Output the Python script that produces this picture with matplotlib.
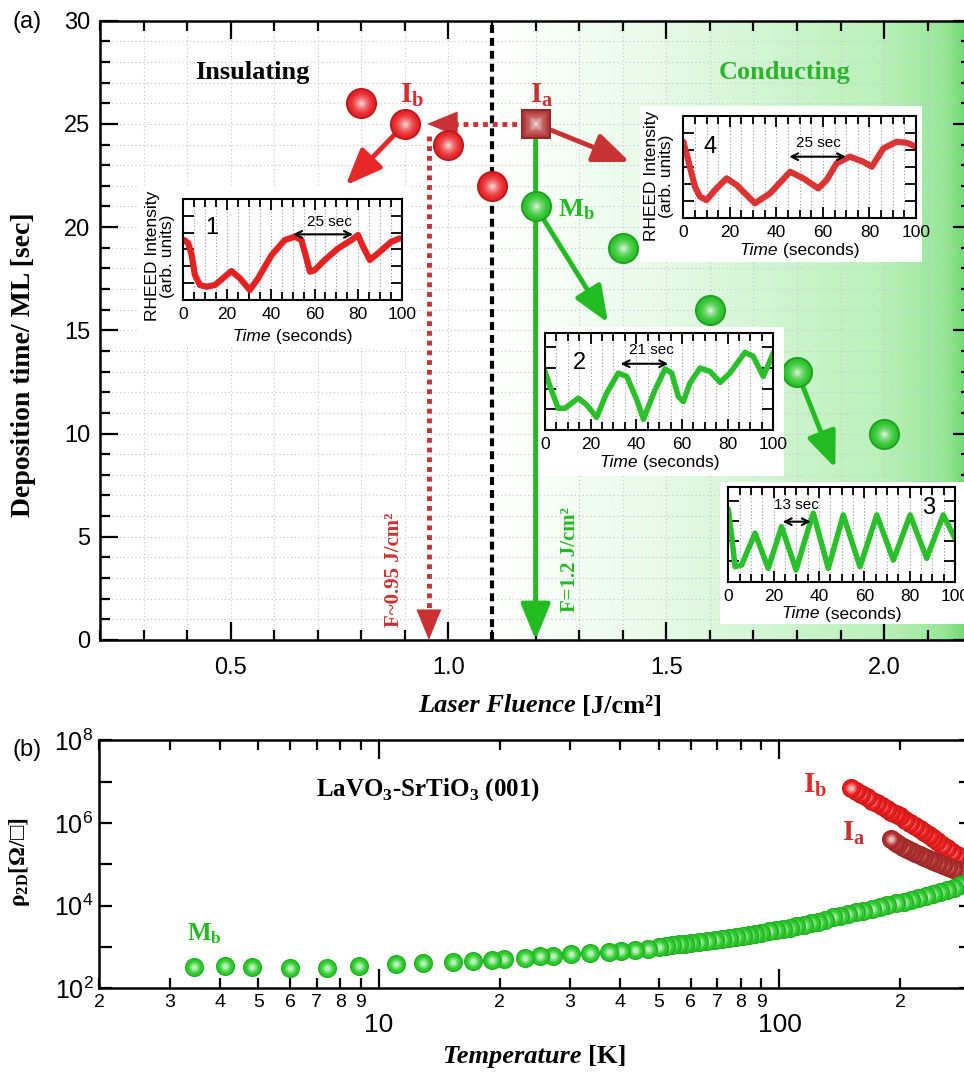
import numpy as np
import matplotlib.pyplot as plt
from matplotlib.patches import Rectangle
from matplotlib.colors import LinearSegmentedColormap
from matplotlib.ticker import MultipleLocator, FixedLocator, FuncFormatter, NullLocator

W, H = 964, 1073
plt.rcParams['font.family'] = ['Liberation Sans', 'DejaVu Sans']
plt.rcParams['mathtext.fontset'] = 'custom'
plt.rcParams['mathtext.rm'] = 'Liberation Sans'
plt.rcParams['mathtext.it'] = 'Liberation Sans:italic'
plt.rcParams['mathtext.bf'] = 'Liberation Serif:bold'

SERIF = ['Liberation Serif', 'DejaVu Serif']
NARROW = ['Liberation Sans Narrow', 'Liberation Sans', 'DejaVu Sans']

# ---------------- (a) deposition time per monolayer vs laser fluence
fluence_ins = [0.8, 0.9, 1.0, 1.1]
dep_ins = [26, 25, 24, 22]
fluence_met = [1.2, 1.4, 1.6, 1.8, 2.0]
dep_met = [21, 19, 16, 13, 10]
fluence_ia, dep_ia = 1.2, 25
f_low = 0.955      # F~0.95 J/cm2
f_high = 1.2       # F=1.2 J/cm2
f_border = 1.1

# RHEED oscillations (time in s, intensity in arb. units)
t1 = [0.5, 2.3, 3.8, 5.3, 7.6, 10.7, 14.5, 19, 22, 25.9, 30.4, 34.2, 40.4, 46.4,
      51, 54, 56.3, 57.9, 60.1, 64.7, 70.8, 76.9, 79.9, 82.2, 85.3, 89, 95.1, 99]
r1 = [3.56, 3.37, 2.67, 1.49, 0.89, 0.79, 0.89, 1.39, 1.72, 1.29, 0.59, 1.29, 2.67, 3.56,
      3.76, 3.56, 2.48, 1.68, 1.78, 2.38, 3.07, 3.56, 3.86, 3.17, 2.38, 2.77, 3.46, 3.66]
t2 = [0, 2.2, 5.8, 8.8, 14.6, 18.3, 22.6, 27, 32.1, 35.8, 40.2, 43.1, 48.2, 52.6,
      55.5, 58.4, 60.6, 63.5, 67.9, 72.3, 76.7, 81, 87.6, 91.2, 95.6, 100]
r2 = [2.83, 2.10, 1.05, 1.05, 1.54, 1.21, 0.61, 1.78, 2.75, 2.59, 1.46, 0.52, 1.94, 2.95,
      2.75, 1.62, 1.37, 2.27, 2.99, 2.83, 2.30, 2.75, 3.75, 3.56, 2.59, 3.72]
t3 = [0, 1.5, 3, 5.9, 11.8, 17.6, 23.5, 29.9, 33.8, 37.5, 44.1, 50.7, 58.1, 65.5,
      72.8, 80.2, 87.5, 94.8, 100]
r3 = [3.58, 2.23, 0.74, 0.83, 2.40, 0.66, 2.72, 0.58, 2.06, 3.39, 0.66, 3.30, 0.74, 3.30,
      1.07, 3.30, 1.16, 3.30, 2.15]
t4 = [0, 2.1, 5, 7.2, 10, 13.6, 18.6, 22.9, 30.8, 37.3, 45.9, 51.6, 58, 61.6, 65.9,
      71.6, 77.3, 81, 86, 91.7, 96, 100]
r4 = [4.48, 3.40, 1.83, 1.24, 1.04, 1.63, 2.32, 1.93, 0.85, 1.44, 2.71, 2.32, 1.73, 2.22,
      3.21, 3.60, 3.30, 3.01, 4.09, 4.48, 4.42, 4.19]

# ---------------- (b) sheet resistance vs temperature
T_mb = [3.45, 4.12, 4.83, 6.0, 7.4, 8.9, 11.0, 12.9, 15.3, 17.2, 19.1, 20.5,
        23.1, 25.2, 27.2, 30.1, 33.7, 37.5, 40.3, 43.5, 46.9, 50, 52, 54,
        56, 58, 60, 63, 66, 69, 72, 75, 78, 81, 84, 87,
        90, 94, 98, 102, 106, 110, 115, 120, 125, 130, 136, 142,
        148, 155, 162, 170, 178, 186, 195, 204, 213, 222, 232, 242,
        252, 262, 272, 282, 292, 300]
rho_mb = [331, 347, 331, 309, 316, 347, 380, 407, 427, 457, 479, 501,
          537, 589, 617, 661, 708, 776, 813, 851, 891, 1000, 1050, 1100,
          1150, 1200, 1260, 1350, 1410, 1510, 1580, 1660, 1780, 1860, 2000, 2090,
          2240, 2400, 2570, 2750, 2950, 3160, 3470, 3800, 4070, 4570, 5250, 5750,
          6310, 6920, 7590, 8510, 9330, 1.02e4, 1.15e4, 1.26e4, 1.41e4, 1.55e4, 1.74e4, 1.95e4,
          2.19e4, 2.45e4, 2.75e4, 3.09e4, 3.47e4, 3.72e4]
T_ib = [151, 155, 160, 165, 170, 175, 180, 185, 190, 195, 200, 206, 212,
        218, 224, 230, 236, 242, 248, 255, 262, 270, 278, 286, 294, 300]
rho_ib = [7.1e6, 6.0e6, 5.0e6, 4.2e6, 3.5e6, 3.0e6, 2.6e6, 2.2e6, 1.9e6, 1.66e6, 1.45e6, 1.2e6, 1.02e6,
          8.5e5, 7.2e5, 6.0e5, 5.1e5, 4.3e5, 3.6e5, 2.95e5, 2.45e5, 2.0e5, 1.66e5, 1.38e5, 1.15e5, 1.0e5]
T_ia = [190, 194, 198, 203, 208, 213, 218, 224, 230, 236, 242, 249, 256, 263, 271, 279, 287, 295, 300]
rho_ia = [4.2e5, 3.55e5, 3.1e5, 2.7e5, 2.35e5, 2.1e5, 1.86e5, 1.66e5, 1.48e5, 1.32e5, 1.2e5,
          1.07e5, 9.8e4, 8.7e4, 7.8e4, 7.1e4, 6.5e4, 5.9e4, 5.6e4]
T_minor = [2, 3, 4, 5, 6, 7, 8, 9, 20, 30, 40, 50, 60, 70, 80, 90, 200, 300]

RED = (230, 32, 36)
DARKRED = (178, 52, 52)
GREEN = (40, 195, 40)
c_dred = '#c83232'
c_green = '#22bb22'

fig = plt.figure(figsize=(W / 100, H / 100), dpi=100)
renderer = fig.canvas.get_renderer()


def fbox(x0, y0, x1, y1):
    return [x0 / W, 1 - y1 / H, (x1 - x0) / W, (y1 - y0) / H]


def ftext(x, y, s, **kw):
    return fig.text(x / W, 1 - y / H, s, **kw)


def text_row(xc, y, parts, **common):
    # several differently styled pieces centred as one line
    objs = [ftext(0, y, s, ha='left', va='center', **common, **kw) for s, kw in parts]
    widths = [t.get_window_extent(renderer).width for t in objs]
    x = xc - sum(widths) / 2
    for t, w in zip(objs, widths):
        t.set_x(x / W)
        x += w


def ball(ax, x, y, rgb, size, marker='o', zorder=6):
    base = np.array(rgb) / 255
    ax.scatter(x, y, s=size, marker=marker, color=base * 0.8, lw=0, zorder=zorder)
    n = 12
    for k in range(1, n):
        f = k / n
        c = base + (1 - base) * (f ** 1.8) * 0.93
        ax.scatter(x, y, s=size * (1 - f) ** 2 * 0.92, marker=marker, color=c, lw=0, zorder=zorder)


def bead_trail(ax, T, rho, rgb, s=190):
    base = np.array(rgb) / 255
    for x, y in zip(T[::-1], rho[::-1]):
        ax.scatter(x, y, s=s, color=base * 0.85, lw=0, zorder=3)
        ax.scatter(x, y, s=s * 0.7, color=base, lw=0, zorder=3)
        ax.scatter(x, y, s=s * 0.3, color=base + (1 - base) * 0.3, lw=0, zorder=3)
        ax.scatter(x, y, s=s * 0.1, color=base + (1 - base) * 0.65, lw=0, zorder=3)


def arrow(ax, start, tip, color, lw=3.5):
    ax.annotate('', xy=tip, xytext=start,
                arrowprops=dict(arrowstyle='-|>,head_length=1.1,head_width=0.45',
                                mutation_scale=20, lw=lw, color=color,
                                shrinkA=0, shrinkB=0), zorder=4)


def head(ax, start, tip, color):
    ax.annotate('', xy=tip, xytext=start,
                arrowprops=dict(arrowstyle='-|>,head_length=1.1,head_width=0.45',
                                mutation_scale=20, lw=0, color=color,
                                shrinkA=0, shrinkB=0), zorder=4)


# ================= panel (a)
ax = fig.add_axes(fbox(100, 20.7, 971.2, 640))

fade = LinearSegmentedColormap.from_list(
    'fade', [(0, '#ffffff'), (0.36, '#e6fae6'), (0.82, '#b9f0b9'), (0.95, '#96e696'), (1.0, '#64d764')])
ax.imshow(np.linspace(0, 1, 300)[None, :], extent=[f_border, 2.2, 0, 30], aspect='auto',
          cmap=fade, zorder=0, interpolation='bilinear')
ax.set_xlim(0.2, 2.2)
ax.set_ylim(0, 30)

ax.xaxis.set_major_locator(MultipleLocator(0.5))
ax.xaxis.set_minor_locator(MultipleLocator(0.1))
ax.yaxis.set_major_locator(MultipleLocator(5))
ax.yaxis.set_minor_locator(MultipleLocator(1))
ax.xaxis.set_major_formatter(FuncFormatter(lambda v, p: f'{v:.1f}'))
ax.grid(True, which='both', ls=(0, (1, 2.5)), lw=0.8, color='#c4c4d6')
ax.tick_params(which='both', direction='in', top=True, right=True, labelsize=17)
ax.tick_params(which='major', length=13, width=1.6)
ax.tick_params(which='minor', length=7, width=1.6)
ax.tick_params(axis='x', pad=12)
ax.tick_params(axis='y', pad=7)
for sp in ax.spines.values():
    sp.set_linewidth(1.8)

# phase border and the two fluence markers
ax.plot([f_border, f_border], [0, 30], color='k', lw=3, ls=(0, (1.9, 1.2)), zorder=3)
ax.plot([fluence_ia, 0.99], [dep_ia, dep_ia], color=c_dred, lw=3.5, ls=(0, (1, 1)), zorder=3)
head(ax, (1.05, dep_ia), (0.951, dep_ia), c_dred)
ax.plot([f_low, f_low], [24.4, 1.4], color=c_dred, lw=3.5, ls=(0, (1, 1)), zorder=3)
head(ax, (f_low, 3), (f_low, 0), c_dred)
arrow(ax, (f_high, dep_ia), (f_high, 0), c_green)

arrow(ax, (0.9, 25), (0.764, 22.03), '#e62828')
arrow(ax, (fluence_ia, dep_ia), (1.416, 23.16), c_dred)
arrow(ax, (1.2, 21), (1.366, 15.37), c_green)
arrow(ax, (1.8, 13), (1.888, 8.33), c_green)

for x, y in zip(fluence_ins, dep_ins):
    ball(ax, x, y, RED, 500)
for x, y in zip(fluence_met, dep_met):
    ball(ax, x, y, GREEN, 500)
ball(ax, fluence_ia, dep_ia, DARKRED, 480, marker='s')

ax.text(0.888, 26.0, r'$\mathbf{I_b}$', color='#dd2a2a', fontsize=21, va='baseline', zorder=7)
ax.text(1.186, 26.0, r'$\mathbf{I_a}$', color=c_dred, fontsize=21, va='baseline', zorder=7)
ax.text(1.251, 20.5, r'$\mathbf{M_b}$', color=c_green, fontsize=19, va='baseline', zorder=7)
ax.text(0.876, 3.4, 'F~0.95 J/cm²', rotation=90, color=c_dred, family=SERIF,
        fontweight='bold', fontsize=15, ha='center', va='center', zorder=7)
ax.text(1.278, 3.9, 'F=1.2 J/cm²', rotation=90, color=c_green, family=SERIF,
        fontweight='bold', fontsize=15, ha='center', va='center', zorder=7)

ftext(252, 72, 'Insulating', family=SERIF, fontweight='bold', fontsize=19, ha='center', va='center')
ftext(785, 72, 'Conducting', family=SERIF, fontweight='bold', fontsize=19, ha='center',
      va='center', color='#2db42d')
ftext(27, 22, '(a)', fontsize=17, ha='center', va='center')
ftext(24, 365, 'Deposition time/ ML [sec]', rotation=90, family=SERIF, fontweight='bold',
      fontsize=20, ha='center', va='center')
text_row(540, 706, [('Laser Fluence ', dict(fontstyle='italic')), ('[J/cm²]', {})],
         family=SERIF, fontweight='bold', fontsize=19)


# RHEED insets
def rheed_inset(box, bg, t, r, color, ytop, yticks, num, num_at, period, per_at, span,
                time_y, lw=4, ylab=None):
    fig.add_artist(Rectangle((bg[0] / W, 1 - bg[3] / H), (bg[2] - bg[0]) / W, (bg[3] - bg[1]) / H,
                             transform=fig.transFigure, facecolor='white', edgecolor='none', zorder=2))
    ai = fig.add_axes(fbox(*box), zorder=3)
    ai.set_xlim(0, 100)
    ai.set_ylim(0, ytop)
    ai.plot(t, r, color=color, lw=lw, solid_joinstyle='round', solid_capstyle='round')
    for g in range(5, 100, 5):
        ai.axvline(g, color='#9a9ab0', lw=0.8, ls=(0, (1, 2)), zorder=0)
    ai.xaxis.set_major_locator(MultipleLocator(20))
    ai.xaxis.set_minor_locator(MultipleLocator(5))
    ai.yaxis.set_major_locator(FixedLocator(yticks))
    ai.yaxis.set_major_formatter(FuncFormatter(lambda v, p: ''))
    ai.tick_params(which='both', direction='in', top=True, right=True, width=1.3, labelsize=12.5, pad=5)
    ai.tick_params(which='major', length=8)
    ai.tick_params(which='minor', length=6)
    for sp in ai.spines.values():
        sp.set_linewidth(1.5)
    ai.text(*num_at, num, fontsize=17, ha='center', va='center')
    ai.text(*per_at, period, fontsize=11, ha='center', va='center')
    ai.annotate('', xy=(span[1], span[2]), xytext=(span[0], span[2]),
                arrowprops=dict(arrowstyle='<->', lw=1.5, color='k', mutation_scale=12,
                                shrinkA=0, shrinkB=0))
    xc = (box[0] + box[2]) / 2
    text_row(xc, time_y, [('Time', dict(fontstyle='italic')), (' (seconds)', {})], fontsize=12.5)
    if ylab is not None:
        ftext(ylab[0], ylab[1], 'RHEED Intensity\n(arb. units)', rotation=90, fontsize=12.5,
              ha='center', va='center', linespacing=1.05, multialignment='center')
    return ai


rheed_inset((183.3, 199, 402, 300), (138, 186, 410, 346), t1, r1, '#e52222', 6, [1, 2, 3, 4, 5],
            '1', (13, 4.3), '25 sec', (67, 4.65), (50.2, 77.6, 3.9), 336, lw=4.5, ylab=(160, 256))
rheed_inset((683.3, 116, 916, 217.7), (640, 106, 922, 262), t4, r4, '#db3434', 6, [1, 2, 3, 4, 5],
            '4', (11.5, 4.2), '25 sec', (58, 4.4), (45.5, 69.9, 3.6), 250.5, lw=4.5, ylab=(659, 176))
rheed_inset((545, 332.7, 773.3, 430), (538, 327, 784, 476), t2, r2, '#2cbf2c', 4.7, [1, 2, 3, 4],
            '2', (15.3, 3.24), '21 sec', (46.7, 3.88), (33.1, 54, 3.2), 462.5)
rheed_inset((728.3, 486.7, 955, 581.7), (720, 482, 964, 624), t3, r3, '#2cbf2c', 4.7, [1, 2, 3, 4],
            '3', (88.2, 3.63), '13 sec', (30.2, 3.8), (24, 36.4, 2.97), 614)

# ================= panel (b)
bx = fig.add_axes(fbox(99, 740.4, 970.6, 988.3))
bx.set_xscale('log')
bx.set_yscale('log')
bx.set_xlim(2, 300)
bx.set_ylim(1e2, 1e8)

bead_trail(bx, T_ib, rho_ib, (238, 30, 30))
bead_trail(bx, T_ia, rho_ia, (180, 48, 48))
bead_trail(bx, T_mb, rho_mb, (45, 205, 45))


def minor_label(v, p):
    if v >= 300:
        return ''
    return f'{v / 10 ** np.floor(np.log10(v) + 1e-9):.0f}'


bx.xaxis.set_major_locator(FixedLocator([10, 100]))
bx.xaxis.set_minor_locator(FixedLocator(T_minor))
bx.xaxis.set_major_formatter(FuncFormatter(lambda v, p: f'{v:.0f}'))
bx.xaxis.set_minor_formatter(FuncFormatter(minor_label))
bx.yaxis.set_major_locator(FixedLocator([1e2, 1e3, 1e4, 1e5, 1e6, 1e7, 1e8]))
bx.yaxis.set_minor_locator(NullLocator())
bx.yaxis.set_major_formatter(FuncFormatter(
    lambda v, p: r'$\mathdefault{10^{%d}}$' % round(np.log10(v)) if round(np.log10(v)) % 2 == 0 else ''))
bx.tick_params(which='both', direction='in', top=True, right=True, width=1.6, labelfontfamily=NARROW)
bx.tick_params(axis='x', which='major', length=14, labelsize=19, pad=18)
bx.tick_params(axis='x', which='minor', length=7, labelsize=14, pad=4)
bx.tick_params(axis='y', which='major', length=9, labelsize=18, pad=4)
for sp in bx.spines.values():
    sp.set_linewidth(1.8)

bx.text(114.6, 10 ** 6.73, r'$\mathbf{I_b}$', color='#e02a2a', fontsize=21, va='baseline')
bx.text(143, 10 ** 5.56, r'$\mathbf{I_a}$', color=c_dred, fontsize=21, va='baseline')
bx.text(3.32, 10 ** 3.17, r'$\mathbf{M_b}$', color=c_green, fontsize=18, va='baseline')
ftext(428, 790, r'LaVO$_\mathbf{3}$-SrTiO$_\mathbf{3}$ (001)', family=SERIF, fontweight='bold',
      fontsize=18, ha='center', va='center')
ftext(27, 750, '(b)', fontsize=17, ha='center', va='center', family=NARROW)
ftext(20, 862, r'ρ$_\mathbf{2D}$[Ω/□]', rotation=90, family=SERIF, fontweight='bold', fontsize=17,
      ha='center', va='center')
text_row(535, 1057, [('Temperature ', dict(fontstyle='italic')), ('[K]', {})],
         family=SERIF, fontweight='bold', fontsize=19)

fig.savefig('out.png', dpi=100)
